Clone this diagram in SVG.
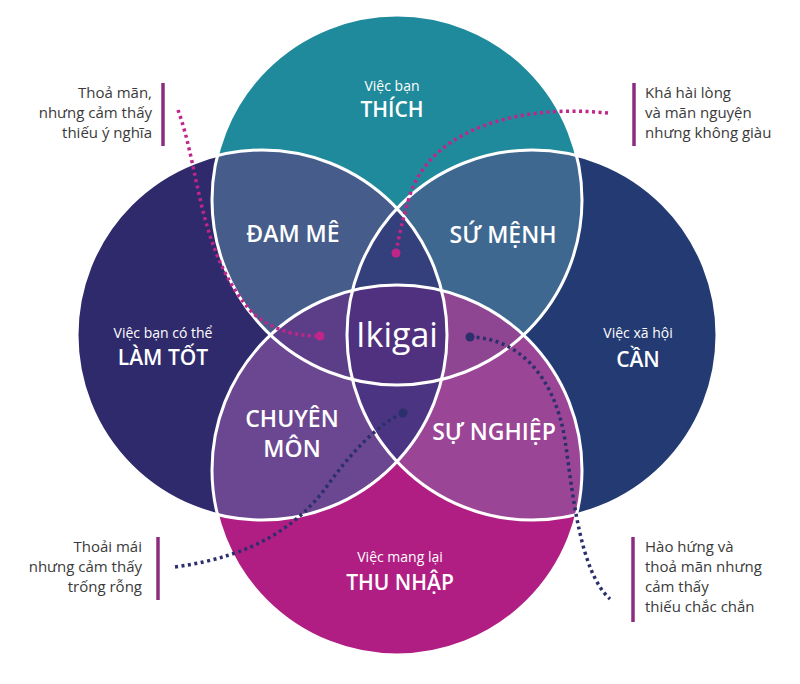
<svg xmlns="http://www.w3.org/2000/svg" width="800" height="684" viewBox="0 0 800 684">
<defs>
<clipPath id="cT"><circle cx="397" cy="200" r="185"/></clipPath>
<clipPath id="cL"><circle cx="262" cy="335" r="185"/></clipPath>
<clipPath id="cR"><circle cx="532" cy="335" r="185"/></clipPath>
<clipPath id="cB"><circle cx="397" cy="470" r="185"/></clipPath>
<style>
.lbl{font-family:"Open Sans","Noto Sans","Liberation Sans",sans-serif;fill:#ffffff;text-anchor:middle}
.sm{font-size:14px}
.big{font-size:21px;font-weight:600}
.zone{font-size:23px;font-weight:600}
.side{font-family:"Open Sans","Noto Sans","Liberation Sans",sans-serif;font-size:15px;fill:#3a3a3a}
.bar{stroke:#8c2c80;stroke-width:3.5}
.dm{fill:none;stroke:#c0268a;stroke-width:3.5;stroke-dasharray:3 3.5}
.dn{fill:none;stroke:#2b2f6b;stroke-width:3.5;stroke-dasharray:3 3.5}
.ring{fill:none;stroke:#ffffff;stroke-width:3}
</style>
</defs>
<rect width="800" height="684" fill="#ffffff"/>

<g id="circles">
<circle cx="397" cy="200" r="185" fill="#1f8a9b"/>
<circle cx="262" cy="335" r="185" fill="#2f2a6c"/>
<circle cx="532" cy="335" r="185" fill="#233a72"/>
<circle cx="397" cy="470" r="185" fill="#b11e83"/>
</g>
<g id="pairs">
<g clip-path="url(#cT)"><circle cx="262" cy="335" r="185" fill="#465d8b"/></g>
<g clip-path="url(#cT)"><circle cx="532" cy="335" r="185" fill="#3e6890"/></g>
<g clip-path="url(#cB)"><circle cx="262" cy="335" r="185" fill="#6b4791"/></g>
<g clip-path="url(#cB)"><circle cx="532" cy="335" r="185" fill="#9a4596"/></g>
</g>
<g id="triples">
<g clip-path="url(#cL)"><g clip-path="url(#cR)"><circle cx="397" cy="200" r="185" fill="#34407c"/></g></g>
<g clip-path="url(#cL)"><g clip-path="url(#cR)"><circle cx="397" cy="470" r="185" fill="#4b3582"/></g></g>
<g clip-path="url(#cT)"><g clip-path="url(#cB)"><circle cx="262" cy="335" r="185" fill="#5c3d88"/></g></g>
<g clip-path="url(#cT)"><g clip-path="url(#cB)"><circle cx="532" cy="335" r="185" fill="#8e4592"/></g></g>
</g>
<g id="quad">
<g clip-path="url(#cT)"><g clip-path="url(#cB)"><g clip-path="url(#cL)"><circle cx="532" cy="335" r="185" fill="#4f317f"/></g></g></g>
</g>
<g id="rings">
<circle class="ring" cx="397" cy="200" r="185"/>
<circle class="ring" cx="262" cy="335" r="185"/>
<circle class="ring" cx="532" cy="335" r="185"/>
<circle class="ring" cx="397" cy="470" r="185"/>
</g>

<g id="connectors">
<path class="dm" d="M178,110 C200,170 198,250 250,310 Q 275,336 320,336"/>
<path class="dm" d="M608,113 C520,104 432,128 410,195 Q 400,228 396,253"/>
<path class="dn" d="M175,567 C255,556 300,525 330,482 C352,452 378,424 403,413"/>
<path class="dn" d="M470,337 C520,338 555,378 565,440 C573,495 580,572 610,599"/>
<circle cx="320" cy="336" r="4.5" fill="#c0268a"/>
<circle cx="396" cy="253" r="4.5" fill="#c0268a"/>
<circle cx="470" cy="337" r="4.5" fill="#2b2f6b"/>
<circle cx="403" cy="413" r="4.5" fill="#2b2f6b"/>
</g>

<g id="top">
<text class="lbl sm" x="392" y="91">Việc bạn</text>
<text class="lbl big" x="392" y="117">THÍCH</text>
</g>
<g id="left">
<text class="lbl sm" x="163" y="338">Việc bạn có thể</text>
<text class="lbl big" x="163" y="365">LÀM TỐT</text>
</g>
<g id="right">
<text class="lbl sm" x="638" y="338">Việc xã hội</text>
<text class="lbl big" x="638" y="367">CẦN</text>
</g>
<g id="bottom">
<text class="lbl sm" x="400" y="562">Việc mang lại</text>
<text class="lbl big" x="400" y="590">THU NHẬP</text>
</g>
<g id="dam-me"><text class="lbl zone" x="293" y="242">ĐAM MÊ</text></g>
<g id="su-menh"><text class="lbl zone" x="503" y="243">SỨ MỆNH</text></g>
<g id="chuyen-mon">
<text class="lbl zone" x="292" y="427">CHUYÊN</text>
<text class="lbl zone" x="292" y="457">MÔN</text>
</g>
<g id="su-nghiep"><text class="lbl zone" x="494" y="440">SỰ NGHIỆP</text></g>
<g id="ikigai"><text class="lbl" x="397" y="347" style="font-size:34px">Ikigai</text></g>

<g id="note-tl">
<line class="bar" x1="163" y1="83" x2="163" y2="146"/>
<text class="side" text-anchor="end" x="152" y="98">Thoả mãn,</text>
<text class="side" text-anchor="end" x="152" y="118">nhưng cảm thấy</text>
<text class="side" text-anchor="end" x="152" y="138">thiếu ý nghĩa</text>
</g>
<g id="note-tr">
<line class="bar" x1="634" y1="83" x2="634" y2="146"/>
<text class="side" x="645" y="98">Khá hài lòng</text>
<text class="side" x="645" y="118">và mãn nguyện</text>
<text class="side" x="645" y="138">nhưng không giàu</text>
</g>
<g id="note-bl">
<line class="bar" x1="158" y1="537" x2="158" y2="600"/>
<text class="side" text-anchor="end" x="142" y="552">Thoải mái</text>
<text class="side" text-anchor="end" x="142" y="572">nhưng cảm thấy</text>
<text class="side" text-anchor="end" x="142" y="592">trống rỗng</text>
</g>
<g id="note-br">
<line class="bar" x1="633" y1="537" x2="633" y2="622"/>
<text class="side" x="645" y="552">Hào hứng và</text>
<text class="side" x="645" y="572">thoả mãn nhưng</text>
<text class="side" x="645" y="592">cảm thấy</text>
<text class="side" x="645" y="612">thiếu chắc chắn</text>
</g>
</svg>
